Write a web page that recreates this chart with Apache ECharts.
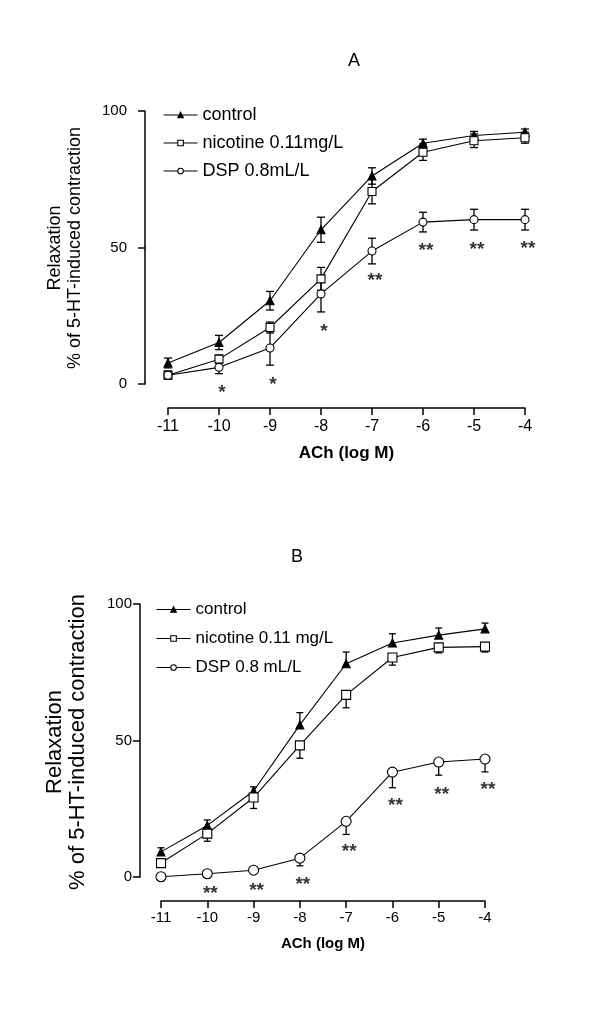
<!DOCTYPE html>
<html>
<head>
<meta charset="utf-8">
<script src="https://cdn.jsdelivr.net/npm/echarts@6/dist/echarts.min.js"></script>
<style>html,body{margin:0;padding:0;background:#fff;}#c{width:600px;height:1014px;}</style>
</head>
<body>
<div id="c"></div>
<script>
// ---- data ----
const xVals = [-11, -10, -9, -8, -7, -6, -5, -4];
const xTicks = [-11, -10, -9, -8, -7, -6, -5, -4];
const yTicks = [0, 50, 100];
const yTitle = 'Relaxation\n% of 5-HT-induced contraction';
const xTitle = 'ACh (log M)';

// Panel A
const namesA = ['control', 'nicotine 0.11mg/L', 'DSP 0.8mL/L'];
const ctrlA = [7.7, 15.2, 30.5, 56.5, 76.2, 88.2, 91.0, 92.2];
const errCtrlA = [1.8, 2.6, 3.4, 4.6, 3.0, 1.5, 1.5, 1.2];
const nicA = [3.2, 9.1, 20.7, 38.5, 70.5, 84.9, 89.1, 90.2];
const errNicA = [1.5, 1.5, 2.0, 4.2, 4.5, 3.0, 2.5, 2.0];
const dspA = [3.2, 6.1, 13.2, 33.0, 48.7, 59.3, 60.2, 60.2];
const errDspA = [1.5, 2.3, 6.3, 6.6, 4.7, 3.6, 3.8, 3.8];
const starXA = [-10, -9, -8, -7, -6, -5, -4];
const starYA = [-0.9, 1.8, 21.3, 40.0, 51.0, 51.3, 51.6];
const starTextA = ['*', '*', '*', '**', '**', '**', '**'];

// Panel B
const namesB = ['control', 'nicotine 0.11 mg/L', 'DSP 0.8 mL/L'];
const ctrlB = [9.2, 18.9, 31.5, 55.7, 78.1, 85.7, 88.6, 90.9];
const errCtrlB = [1.5, 2.0, 1.5, 4.5, 4.3, 3.4, 2.6, 2.1];
const nicB = [5.1, 15.9, 29.1, 48.2, 66.7, 80.4, 84.1, 84.4];
const errNicB = [0.8, 2.8, 4.0, 4.7, 4.7, 2.8, 2.0, 2.0];
const dspB = [0.1, 1.2, 2.5, 6.9, 20.4, 38.4, 42.1, 43.2];
const errDspB = [0.0, 0.5, 1.0, 2.8, 4.8, 5.7, 4.8, 4.7];
const starXB = [-10, -9, -8, -7, -6, -5, -4];
const starYB = [-3.9, -2.8, -0.8, 11.6, 28.2, 32.2, 34.0];
const starTextB = ['**', '**', '**', '**', '**', '**', '**'];

// ---- chart ----
const FONT = 'Liberation Sans';
const chart = echarts.init(document.getElementById('c'));

function pairs(ys) { return xVals.map((x, i) => [x, ys[i]]); }

function errSeries(ys, errs, gi, dir, cap) {
  return {
    type: 'custom', xAxisIndex: gi, yAxisIndex: gi, clip: false, z: 2,
    silent: true,
    data: xVals.map((x, i) => [x, ys[i], errs[i]]),
    renderItem: function (params, api) {
      const x = api.value(0), y = api.value(1), e = api.value(2);
      const lo = dir > 0 ? y : y - e;
      const hi = dir < 0 ? y : y + e;
      const p1 = api.coord([x, lo]), p2 = api.coord([x, hi]);
      const st = { stroke: '#000', lineWidth: 1.3 };
      const children = [{ type: 'line', shape: { x1: p1[0], y1: p1[1], x2: p2[0], y2: p2[1] }, style: st }];
      if (dir <= 0) children.push({ type: 'line', shape: { x1: p1[0] - cap, y1: p1[1], x2: p1[0] + cap, y2: p1[1] }, style: st });
      if (dir >= 0) children.push({ type: 'line', shape: { x1: p2[0] - cap, y1: p2[1], x2: p2[0] + cap, y2: p2[1] }, style: st });
      return { type: 'group', children: children };
    }
  };
}

function lineSeries(name, ys, gi, symbol, size) {
  return {
    name: name, type: 'line', xAxisIndex: gi, yAxisIndex: gi, clip: false, z: 3,
    data: pairs(ys), symbol: symbol, symbolSize: size, showSymbol: true,
    lineStyle: { color: '#000', width: 1.1 },
    itemStyle: { color: symbol === 'triangle' ? '#000' : '#fff', borderColor: '#000', borderWidth: 1.1 },
    emphasis: { disabled: true }
  };
}

function starSeries(xs, ys, texts, gi, fs) {
  return {
    type: 'scatter', xAxisIndex: gi, yAxisIndex: gi, clip: false, z: 4, silent: true,
    symbolSize: 0,
    data: xs.map((x, i) => ({ value: [x, ys[i]], label: { formatter: texts[i] } })),
    label: { show: true, position: 'inside', color: '#000', fontFamily: FONT, fontSize: fs,
      fontWeight: 'bold', offset: [3, 6] }
  };
}

function xAxisCfg(gi, offset, margin, nameGap, fs, nameFs) {
  return {
    gridIndex: gi, type: 'value', min: -11, max: -4, interval: 1, offset: offset,
    name: xTitle, nameLocation: 'middle', nameGap: nameGap,
    nameTextStyle: { fontFamily: FONT, fontSize: nameFs, fontWeight: 'bold', color: '#000' },
    axisLine: { show: true, onZero: false, lineStyle: { color: '#000', width: 1.5 } },
    axisTick: { show: true, length: 7, lineStyle: { color: '#000', width: 1.5 } },
    axisLabel: { color: '#000', fontFamily: FONT, fontSize: fs, margin: margin },
    splitLine: { show: false }
  };
}

function yAxisCfg(gi, offset, margin, fs) {
  return {
    gridIndex: gi, type: 'value', min: 0, max: 100, interval: 50, offset: offset,
    axisLine: { show: true, onZero: false, lineStyle: { color: '#000', width: 1.5 } },
    axisTick: { show: true, length: 7, lineStyle: { color: '#000', width: 1.5 } },
    axisLabel: { color: '#000', fontFamily: FONT, fontSize: fs, margin: margin },
    splitLine: { show: false }
  };
}

function legendCfg(names, left, top, gap, fs) {
  return {
    orient: 'vertical', left: left, top: top, itemWidth: 34, itemHeight: 7, itemGap: gap,
    data: names, selectedMode: false,
    textStyle: { fontFamily: FONT, fontSize: fs, color: '#000' },
    lineStyle: { width: 1.1, color: '#000' },
    itemStyle: { borderWidth: 1.1, borderColor: '#000' }
  };
}

const option = {
  backgroundColor: '#fff',
  animation: false,
  textStyle: { fontFamily: FONT },
  graphic: [
    { type: 'text', left: 348, top: 52, style: { text: 'A', font: '18px "Liberation Sans"', fill: '#000' } },
    { type: 'text', left: 291, top: 548, style: { text: 'B', font: '18px "Liberation Sans"', fill: '#000' } },
    { type: 'text', x: 65, y: 248, rotation: Math.PI / 2,
      style: { text: yTitle, font: '18px "Liberation Sans"', fill: '#000', align: 'center', verticalAlign: 'middle', lineHeight: 20 } },
    { type: 'text', x: 66, y: 742, rotation: Math.PI / 2,
      style: { text: yTitle, font: '22px "Liberation Sans"', fill: '#000', align: 'center', verticalAlign: 'middle', lineHeight: 23 } }
  ],
  grid: [
    { left: 168, right: 75, top: 111, bottom: 630 },
    { left: 161, right: 115, top: 604, bottom: 137 }
  ],
  legend: [
    legendCfg(namesA, 158, 101, 10, 18),
    legendCfg(namesB, 151, 596, 12, 17)
  ],
  xAxis: [ xAxisCfg(0, 24, 11, 37, 16, 17), xAxisCfg(1, 24, 9, 35, 15, 15) ],
  yAxis: [ yAxisCfg(0, 23, 18, 15), yAxisCfg(1, 21, 8, 15) ],
  series: [
    errSeries(ctrlA, errCtrlA, 0, 0, 4),
    errSeries(nicA, errNicA, 0, 0, 4),
    errSeries(dspA, errDspA, 0, 0, 4),
    lineSeries(namesA[0], ctrlA, 0, 'triangle', 8),
    lineSeries(namesA[1], nicA, 0, 'rect', 8),
    lineSeries(namesA[2], dspA, 0, 'circle', 8),
    starSeries(starXA, starYA, starTextA, 0, 19),
    errSeries(ctrlB, errCtrlB, 1, 1, 3.5),
    errSeries(nicB, errNicB, 1, -1, 3.5),
    errSeries(dspB, errDspB, 1, -1, 3.5),
    lineSeries(namesB[0], ctrlB, 1, 'triangle', 8),
    lineSeries(namesB[1], nicB, 1, 'rect', 9),
    lineSeries(namesB[2], dspB, 1, 'circle', 10),
    starSeries(starXB, starYB, starTextB, 1, 19)
  ]
};
chart.setOption(option);
</script>
</body>
</html>
